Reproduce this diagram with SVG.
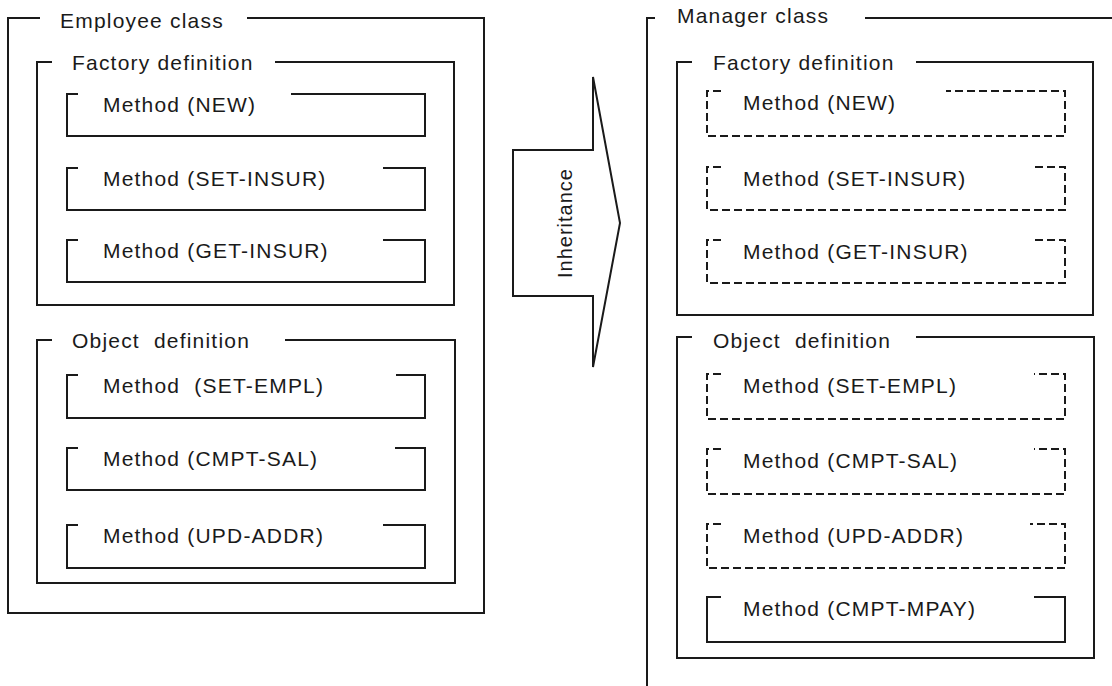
<svg xmlns="http://www.w3.org/2000/svg" width="1112" height="686" viewBox="0 0 1112 686">
<style>
.f{fill:none;stroke:#1a1a1a;stroke-width:2}
.d{fill:none;stroke:#1a1a1a;stroke-width:2;stroke-dasharray:8 4}
text{font-family:"Liberation Sans",Arial,sans-serif;font-size:21px;letter-spacing:1.2px;fill:#1a1a1a;white-space:pre}
</style>
<rect width="1112" height="686" fill="#fff"/>
<g id="employee-class">
<path class="f" d="M40,18H8V613H484V18H247"/>
<text x="60" y="28">Employee class</text>
</g>
<g id="employee-factory">
<path class="f" d="M52,62H37V305H454V62H275"/>
<text x="72" y="70">Factory definition</text>
</g>
<g id="employee-new">
<path class="f" d="M78,94H67V136H425V94H291"/>
<text x="103" y="112">Method (NEW)</text>
</g>
<g id="employee-set-insur">
<path class="f" d="M78,168H67V210H425V168H383"/>
<text x="103" y="186">Method (SET-INSUR)</text>
</g>
<g id="employee-get-insur">
<path class="f" d="M78,240H67V282H425V240H383"/>
<text x="103" y="258">Method (GET-INSUR)</text>
</g>
<g id="employee-object">
<path class="f" d="M52,340H37V583H455V340H285"/>
<text x="72" y="348">Object  definition</text>
</g>
<g id="employee-set-empl">
<path class="f" d="M78,375H67V418H425V375H396"/>
<text x="103" y="393">Method  (SET-EMPL)</text>
</g>
<g id="employee-cmpt-sal">
<path class="f" d="M78,448H67V490H425V448H395"/>
<text x="103" y="466">Method (CMPT-SAL)</text>
</g>
<g id="employee-upd-addr">
<path class="f" d="M78,525H67V568H425V525H383"/>
<text x="103" y="543">Method (UPD-ADDR)</text>
</g>
<g id="connectors">
<polygon class="f" fill="#fff" points="593,77 593,150 513,150 513,296 593,296 593,367 620,223"/>
<text transform="translate(572,223) rotate(-90)" text-anchor="middle" style="font-size:20px;letter-spacing:1px">Inheritance</text>
</g>
<g id="manager-class">
<path class="f" d="M655,18H647V690"/>
<path class="f" d="M865,18H1115"/>
<text x="677" y="23">Manager class</text>
</g>
<g id="manager-factory">
<path class="f" d="M692,62H677V315H1093V62H916"/>
<text x="713" y="70">Factory definition</text>
</g>
<g id="manager-new">
<path class="d" d="M721,91H707V136H1065V91H946"/>
<text x="743" y="110">Method (NEW)</text>
</g>
<g id="manager-set-insur">
<path class="d" d="M721,167H707V210H1065V167H1032"/>
<text x="743" y="186">Method (SET-INSUR)</text>
</g>
<g id="manager-get-insur">
<path class="d" d="M721,240H707V283H1065V240H1032"/>
<text x="743" y="259">Method (GET-INSUR)</text>
</g>
<g id="manager-object">
<path class="f" d="M692,337H677V658H1094V337H916"/>
<text x="713" y="348">Object  definition</text>
</g>
<g id="manager-set-empl">
<path class="d" d="M721,374H707V419H1065V374H1034"/>
<text x="743" y="393">Method (SET-EMPL)</text>
</g>
<g id="manager-cmpt-sal">
<path class="d" d="M721,449H707V494H1065V449H1034"/>
<text x="743" y="468">Method (CMPT-SAL)</text>
</g>
<g id="manager-upd-addr">
<path class="d" d="M721,524H707V568H1065V524H1030"/>
<text x="743" y="543">Method (UPD-ADDR)</text>
</g>
<g id="manager-cmpt-mpay">
<path class="f" d="M721,597H707V642H1065V597H1034"/>
<text x="743" y="616">Method (CMPT-MPAY)</text>
</g>
</svg>
